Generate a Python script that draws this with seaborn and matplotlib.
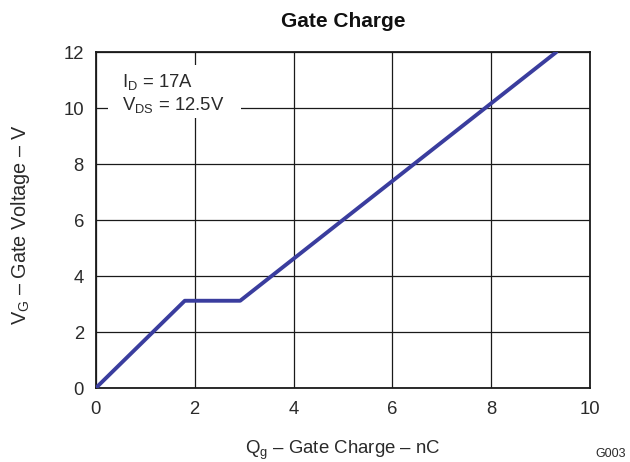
import matplotlib
matplotlib.use("Agg")
import matplotlib.pyplot as plt
from matplotlib import font_manager
from matplotlib.patches import Rectangle
import seaborn as sns
import pandas as pd

# Gate charge curve
charge_nc = [0.0, 1.80, 2.92, 9.31]
gate_voltage = [0.0, 3.12, 3.12, 12.0]
x_ticks = [0, 2, 4, 6, 8, 10]
y_ticks = [0, 2, 4, 6, 8, 10, 12]

sns.set_theme(style="white")
plt.rcParams["font.family"] = ["Liberation Sans", "DejaVu Sans"]
plt.rcParams["mathtext.fontset"] = "custom"
plt.rcParams["mathtext.rm"] = "Liberation Sans"
plt.rcParams["mathtext.it"] = "Liberation Sans"

# make sure the bold title uses the normal-width face, not the narrow one
bold_file = None
for f in font_manager.fontManager.ttflist:
    if f.name == "Liberation Sans" and f.weight in (700, "bold") and f.style == "normal" \
            and "narrow" not in f.fname.lower():
        bold_file = f.fname
        break
if bold_file:
    title_font = font_manager.FontProperties(fname=bold_file, size=15)
else:
    title_font = font_manager.FontProperties(family="Liberation Sans", weight="bold", size=15)

text_color = "#2a2a2a"
df = pd.DataFrame({"Qg": charge_nc, "VG": gate_voltage})

fig = plt.figure(figsize=(6.3, 4.62), dpi=100)
ax = fig.add_axes([0.152, 0.160, 0.785, 0.727])

sns.lineplot(data=df, x="Qg", y="VG", ax=ax, color="#3a3d9e", linewidth=2.8,
             sort=False, estimator=None, zorder=3)

ax.set_xlim(0, 10)
ax.set_ylim(0, 12)
ax.set_xticks(x_ticks)
ax.set_yticks(y_ticks)
ax.tick_params(axis="both", length=0, labelsize=13.3, colors=text_color)
ax.tick_params(axis="x", pad=9.5)
ax.tick_params(axis="y", pad=8.5)
ax.grid(True, color="#1a1a1a", linewidth=0.9)
for s in ax.spines.values():
    s.set_color("#1a1a1a")
    s.set_linewidth(1.3)

ax.set_title("Gate Charge", fontproperties=title_font, pad=18, color="#111111")
ax.set_xlabel(r"Q$_\mathregular{g}$ – Gate Charge – nC", fontsize=13.4, color=text_color)
ax.set_ylabel(r"V$_\mathregular{G}$ – Gate Voltage – V", fontsize=14.3, color=text_color)
ax.xaxis.set_label_coords(0.5, -0.152)
ax.yaxis.set_label_coords(-0.128, 0.485)

# white box behind the test conditions
ax.add_patch(Rectangle((0.24, 9.64), 2.70, 1.90, facecolor="white",
                       edgecolor="none", zorder=2.5))
ax.text(0.53, 10.76, r"I$_\mathregular{D}$ = 17A", fontsize=13.3, va="baseline",
        ha="left", color=text_color, zorder=4)
ax.text(0.53, 9.93, r"V$_\mathregular{DS}$ = 12.5V", fontsize=13.3, va="baseline",
        ha="left", color=text_color, zorder=4)

fig.text(0.994, 0.004, "G003", fontsize=9, ha="right", va="bottom", color=text_color)

fig.savefig("out.png", dpi=100)
